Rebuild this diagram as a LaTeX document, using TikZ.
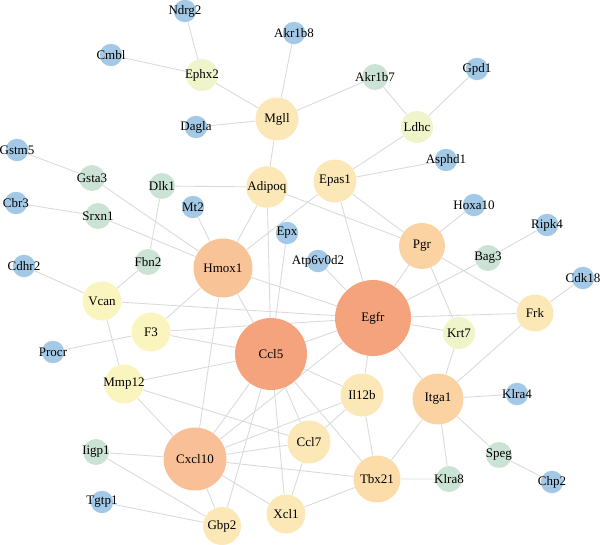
\documentclass[tikz,border=0pt]{standalone}
\usepackage{fontspec}
\setmainfont{Liberation Serif}
\usepackage{tikz}
\usetikzlibrary{backgrounds}
\definecolor{leafblue}{HTML}{A3C9E6}
\definecolor{sage}{HTML}{CBE3D5}
\definecolor{lime}{HTML}{EFF4CB}
\definecolor{cream}{HTML}{FAF5BF}
\definecolor{butter}{HTML}{FCE8B6}
\definecolor{wheat}{HTML}{FCDCA9}
\definecolor{peach}{HTML}{FBD2A1}
\definecolor{apricot}{HTML}{F9BF96}
\definecolor{salmon}{HTML}{F5A37C}
\definecolor{linkgray}{HTML}{DADADA}

\begin{document}
\begin{tikzpicture}[
  x=0.02cm,y=-0.02cm,
  font=\fontsize{7.4}{8.5}\selectfont,
  gene/.style={circle,inner sep=0pt,draw=none},
  leaf/.style={gene,fill=leafblue,minimum size=0.45cm},
  twig/.style={gene,fill=sage,minimum size=0.52cm},
  bud/.style={gene,fill=lime,minimum size=0.64cm},
  pale/.style={gene,fill=cream,minimum size=0.78cm},
  mid/.style={gene,fill=butter,minimum size=0.85cm},
  hub/.style={gene,align=center},
  link/.style={draw=linkgray,line width=0.5pt}
]
\useasboundingbox (0,0) rectangle (600,545);

% ---- outer ring, low degree
\node[leaf,label=center:Ndrg2] (ndrg2) at (185,11) {};
\node[leaf,label=center:Akr1b8] (akr1b8) at (294,33) {};
\node[leaf,label=center:Cmbl] (cmbl) at (111,55) {};
\node[leaf,label=center:Gpd1] (gpd1) at (477,69) {};
\node[leaf,label=center:Dagla] (dagla) at (196,127) {};
\node[leaf,label=center:Gstm5] (gstm5) at (17,150) {};
\node[leaf,label=center:Asphd1] (asphd1) at (446,160) {};
\node[leaf,label=center:Cbr3] (cbr3) at (16,203) {};
\node[leaf,label=center:Mt2] (mt2) at (193,207) {};
\node[leaf,label=center:Hoxa10] (hoxa10) at (474,205) {};
\node[leaf,label=center:Ripk4] (ripk4) at (547,225) {};
\node[leaf,label=center:Epx] (epx) at (287,233) {};
\node[leaf,label=center:Atp6v0d2] (atp6v0d2) at (318,261) {};
\node[leaf,label=center:Cdhr2] (cdhr2) at (24,266) {};
\node[leaf,label=center:Cdk18] (cdk18) at (583,278) {};
\node[leaf,label=center:Procr] (procr) at (53,352) {};
\node[leaf,label=center:Klra4] (klra4) at (517,394) {};
\node[leaf,label=center:Chp2] (chp2) at (552,482) {};
\node[leaf,label=center:Tgtp1] (tgtp1) at (102,502) {};

\node[twig,label=center:Akr1b7] (akr1b7) at (375,77) {};
\node[twig,label=center:Gsta3] (gsta3) at (92,178) {};
\node[twig,label=center:Dlk1] (dlk1) at (162,186) {};
\node[twig,label=center:Srxn1] (srxn1) at (98,216) {};
\node[twig,label=center:Fbn2] (fbn2) at (148,262) {};
\node[twig,label=center:Bag3] (bag3) at (488,258) {};
\node[twig,label=center:Iigp1] (iigp1) at (96,452) {};
\node[twig,label=center:Speg] (speg) at (499,455) {};
\node[twig,label=center:Klra8] (klra8) at (449,479) {};

% ---- middle ring
\node[bud,label=center:Ephx2] (ephx2) at (202,75) {};
\node[bud,label=center:Ldhc] (ldhc) at (417,127) {};
\node[bud,label=center:Krt7] (krt7) at (459,333) {};
\node[pale,label=center:Vcan] (vcan) at (102,301) {};
\node[pale,label=center:F3] (f3) at (151,332) {};
\node[pale,label=center:Mmp12] (mmp12) at (124,384) {};
\node[mid,minimum size=0.86cm,label=center:Mgll] (mgll) at (277,119) {};
\node[mid,minimum size=0.83cm,label=center:Adipoq] (adipoq) at (267,187) {};
\node[mid,minimum size=0.86cm,label=center:Epas1] (epas1) at (335,181) {};
\node[mid,minimum size=0.74cm,label=center:Frk] (frk) at (535,313) {};
\node[mid,minimum size=0.86cm,label=center:Il12b] (il12b) at (362,395) {};
\node[mid,minimum size=0.86cm,label=center:Ccl7] (ccl7) at (309,442) {};
\node[mid,minimum size=0.78cm,label=center:Xcl1] (xcl1) at (286,514) {};
\node[mid,minimum size=0.76cm,label=center:Gbp2] (gbp2) at (222,526) {};

% ---- hubs
\node[hub,fill=wheat,minimum size=0.94cm] (tbx21) at (377,479) {Tbx21};
\node[hub,fill=peach,minimum size=0.92cm] (pgr) at (422,246) {Pgr};
\node[hub,fill=peach,minimum size=1.02cm] (itga1) at (438,399) {Itga1};
\node[hub,fill=apricot!80!peach,minimum size=1.18cm] (hmox1) at (223,268) {Hmox1};
\node[hub,fill=apricot,minimum size=1.26cm] (cxcl10) at (195,459) {Cxcl10};
\node[hub,fill=salmon,minimum size=1.44cm] (ccl5) at (271,354) {Ccl5};
\node[hub,fill=salmon,minimum size=1.52cm] (egfr) at (373,318) {Egfr};

% ---- edges, behind the nodes
\begin{pgfonlayer}{background}
\draw[link] (ndrg2) -- (ephx2) (cmbl) -- (ephx2) (ephx2) -- (mgll)
  (akr1b8) -- (mgll) (dagla) -- (mgll) (mgll) -- (akr1b7) (mgll) -- (adipoq);
\draw[link] (akr1b7) -- (ldhc) (gpd1) -- (ldhc) (ldhc) -- (epas1)
  (asphd1) -- (epas1);
\draw[link] (gstm5) -- (gsta3) (gsta3) -- (hmox1) (cbr3) -- (srxn1)
  (srxn1) -- (hmox1) (dlk1) -- (adipoq) (dlk1) -- (fbn2) (mt2) -- (hmox1);
\draw[link] (adipoq) -- (hmox1) (adipoq) -- (ccl5) (adipoq) -- (pgr)
  (epas1) -- (hmox1) (epas1) -- (pgr) (epas1) -- (egfr)
  (epx) -- (ccl5) (atp6v0d2) -- (egfr);
\draw[link] (hmox1) -- (egfr) (hmox1) -- (ccl5) (hmox1) -- (f3)
  (hmox1) -- (cxcl10);
\draw[link] (cdhr2) -- (vcan) (fbn2) -- (vcan) (vcan) -- (egfr)
  (vcan) -- (mmp12) (procr) -- (f3) (f3) -- (egfr) (f3) -- (ccl5);
\draw[link] (mmp12) -- (ccl5) (mmp12) -- (cxcl10) (mmp12) -- (ccl7);
\draw[link] (pgr) -- (hoxa10) (pgr) -- (egfr) (pgr) -- (krt7) (pgr) -- (frk)
  (bag3) -- (ripk4) (bag3) -- (egfr) (frk) -- (cdk18);
\draw[link] (egfr) -- (frk) (egfr) -- (krt7) (egfr) -- (il12b)
  (egfr) -- (itga1) (egfr) -- (ccl5) (egfr) -- (cxcl10);
\draw[link] (frk) -- (itga1) (krt7) -- (itga1) (itga1) -- (klra4)
  (itga1) -- (speg) (itga1) -- (klra8) (itga1) -- (tbx21)
  (speg) -- (chp2) (tbx21) -- (klra8);
\draw[link] (il12b) -- (tbx21) (il12b) -- (ccl7) (il12b) -- (ccl5)
  (il12b) -- (cxcl10);
\draw[link] (ccl5) -- (ccl7) (ccl5) -- (tbx21) (ccl5) -- (xcl1)
  (ccl5) -- (gbp2) (ccl5) -- (cxcl10);
\draw[link] (cxcl10) -- (ccl7) (cxcl10) -- (tbx21) (cxcl10) -- (xcl1)
  (cxcl10) -- (gbp2) (iigp1) -- (cxcl10) (iigp1) -- (gbp2)
  (tgtp1) -- (gbp2) (ccl7) -- (xcl1) (xcl1) -- (tbx21);
\end{pgfonlayer}
\end{tikzpicture}
\end{document}
